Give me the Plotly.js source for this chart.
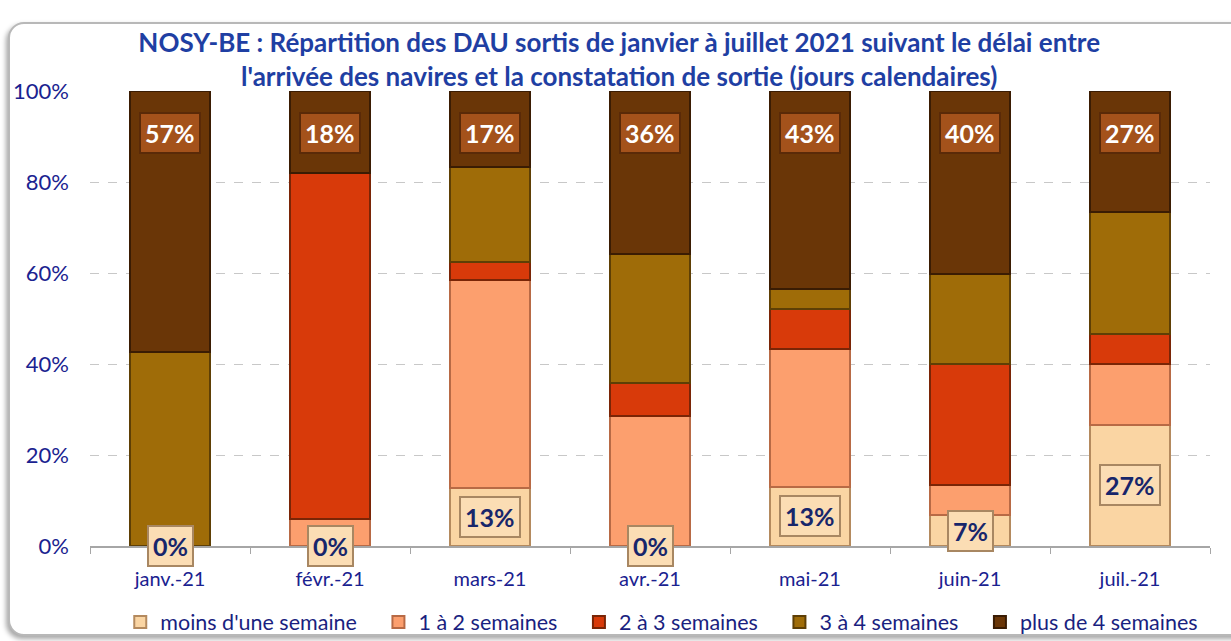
<!DOCTYPE html>
<html>
<head>
<meta charset="utf-8">
<script src="https://cdn.plot.ly/plotly-3.0.1.min.js"></script>
<style>
  html, body { margin: 0; padding: 0; background: #ffffff; width: 1231px; height: 641px; overflow: hidden; }
  #frame { position: absolute; left: 8px; top: 22px; width: 1240px; height: 610px;
           border: 2px solid #b8b8b8; border-radius: 16px; box-shadow: -2px 3px 5px rgba(0,0,0,0.35); background: #fff; }
  #chart { position: absolute; left: 0; top: 0; width: 1231px; height: 641px; }
</style>
</head>
<body>
<div id="frame"></div>
<div id="chart"></div>
<script>
// Categories (months)
const categories = ['janv.-21', 'févr.-21', 'mars-21', 'avr.-21', 'mai-21', 'juin-21', 'juil.-21'];

// Series values, in percent
const moinsUneSemaine = [0, 0, 12.7, 0, 13.0, 6.8, 26.7];
const unADeuxSemaines = [0, 5.9, 45.8, 28.6, 30.4, 6.6, 13.3];
const deuxATroisSemaines = [0, 76.1, 4.0, 7.2, 8.6, 26.6, 6.6];
const troisAQuatreSemaines = [42.7, 0, 20.7, 28.4, 4.4, 19.8, 26.7];
const plusDeQuatreSemaines = [57.3, 18.0, 16.8, 35.8, 43.6, 40.2, 26.7];

// Displayed data labels
const moinsLabels = ['0%', '0%', '13%', '0%', '13%', '7%', '27%'];
const plusLabels = ['57%', '18%', '17%', '36%', '43%', '40%', '27%'];

const seriesNames = ["moins d'une semaine", '1 à 2 semaines', '2 à 3 semaines', '3 à 4 semaines', 'plus de 4 semaines'];
const seriesValues = [moinsUneSemaine, unADeuxSemaines, deuxATroisSemaines, troisAQuatreSemaines, plusDeQuatreSemaines];
const seriesColors = ['#FAD5A3', '#FC9F6E', '#D83A0A', '#9F6C08', '#6A3607'];
const seriesLines = ['#B48A5E', '#B86A45', '#7A2506', '#5E3F05', '#3A1C03'];

const pad = '\u00a0\u00a0\u00a0';
const traces = seriesNames.map((name, i) => ({
  type: 'bar',
  name: i < seriesNames.length - 1 ? name + pad : name,
  x: categories,
  y: seriesValues[i],
  width: 0.5,
  marker: { color: seriesColors[i], line: { color: seriesLines[i], width: 2 } },
  hoverinfo: 'skip'
}));

const annotations = [];
categories.forEach((c, i) => {
  annotations.push({
    x: c, y: moinsUneSemaine[i] / 2, xref: 'x', yref: 'y',
    text: '<b>' + moinsLabels[i] + '</b>', showarrow: false,
    font: { family: 'Lato, sans-serif', size: 25, color: '#17266B' },
    bgcolor: '#FBDDB4', bordercolor: '#A88762', borderwidth: 2, borderpad: 4,
    xanchor: 'center', yanchor: 'middle'
  });
  annotations.push({
    x: c, y: 100, xref: 'x', yref: 'y',
    text: '<b>' + plusLabels[i] + '</b>', showarrow: false,
    font: { family: 'Lato, sans-serif', size: 25, color: '#ffffff' },
    bgcolor: '#A4521B', bordercolor: '#5A2A08', borderwidth: 2, borderpad: 4,
    xanchor: 'center', yanchor: 'top', yshift: -21
  });
});

const layout = {
  width: 1231, height: 641,
  paper_bgcolor: 'rgba(0,0,0,0)', plot_bgcolor: 'rgba(0,0,0,0)',
  margin: { l: 90, r: 21, t: 91, b: 95, autoexpand: false },
  barmode: 'stack',
  showlegend: true,
  title: {
    text: "<b>NOSY-BE : Répartition des DAU sortis de janvier à juillet 2021 suivant le délai entre<br>l'arrivée des navires et la constatation de sortie (jours calendaires)</b>",
    font: { family: 'Lato, sans-serif', size: 26, color: '#1F3FA3' },
    x: 0.503, xref: 'container', xanchor: 'center', yref: 'container', y: 0.919, yanchor: 'top'
  },
  font: { family: 'Lato, sans-serif', color: '#1A2290' },
  xaxis: {
    type: 'category',
    tickfont: { family: 'Lato, sans-serif', size: 20, color: '#1A2290' },
    showline: true, linecolor: '#a6a6a6', linewidth: 1.5,
    ticks: 'outside', tickson: 'boundaries', ticklen: 6, tickcolor: '#a6a6a6',
    ticklabelstandoff: 14,
    showgrid: false, fixedrange: true
  },
  yaxis: {
    range: [0, 100],
    tickvals: [0, 20, 40, 60, 80, 100],
    ticktext: ['0%', '20%', '40%', '60%', '80%', '100%'],
    tickfont: { family: 'Lato, sans-serif', size: 22, color: '#1A2290' },
    showgrid: true, gridcolor: '#c8c8c8', griddash: 'dash', gridwidth: 1,
    zeroline: false, showline: false, ticks: '', ticklabelstandoff: 20,
    fixedrange: true
  },
  legend: {
    orientation: 'h', x: 0.5105, xanchor: 'center', y: -0.167, yanchor: 'middle',
    font: { family: 'Lato, sans-serif', size: 21.5, color: '#1A1F80' },
    traceorder: 'normal', itemwidth: 30
  },
  annotations: annotations
};

Plotly.newPlot('chart', traces, layout, { displayModeBar: false, staticPlot: true });
</script>
</body>
</html>
